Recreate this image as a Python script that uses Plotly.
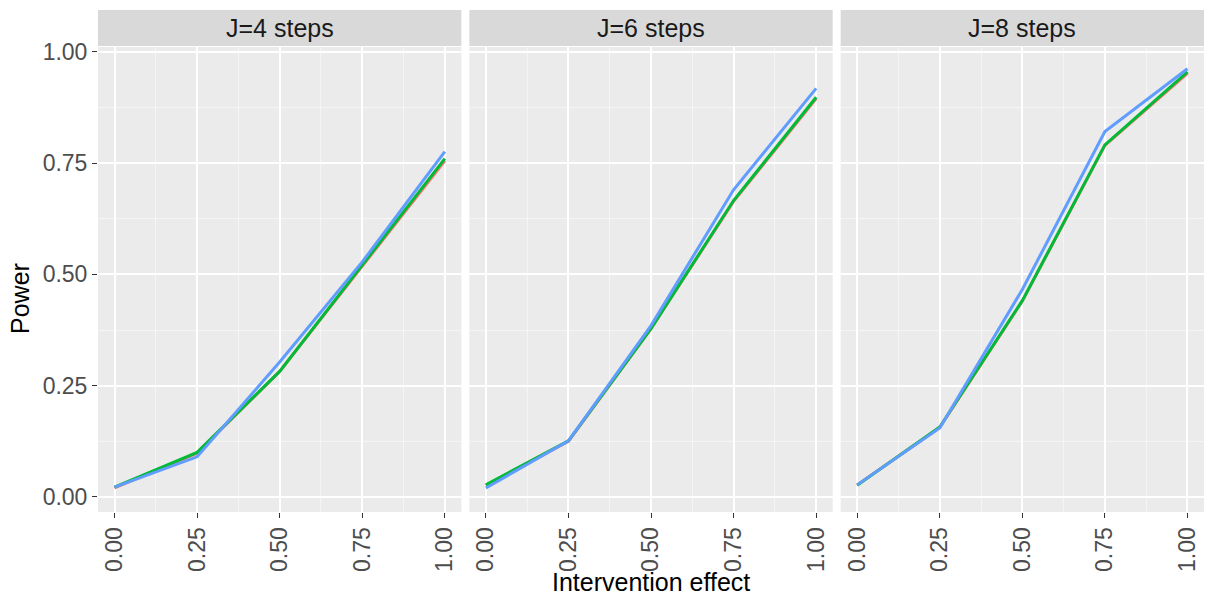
import plotly.graph_objects as go
from plotly.subplots import make_subplots

effects = [0.0, 0.25, 0.5, 0.75, 1.0]
panels = ["J=4 steps", "J=6 steps", "J=8 steps"]

# series values per panel: red, green, blue
red_vals = [
    [0.020, 0.098, 0.282, 0.518, 0.755],
    [0.026, 0.125, 0.378, 0.664, 0.895],
    [0.027, 0.156, 0.440, 0.790, 0.952],
]
green_vals = [
    [0.022, 0.100, 0.282, 0.520, 0.760],
    [0.027, 0.126, 0.378, 0.666, 0.898],
    [0.026, 0.157, 0.441, 0.791, 0.955],
]
blue_vals = [
    [0.022, 0.090, 0.303, 0.528, 0.776],
    [0.020, 0.126, 0.385, 0.690, 0.918],
    [0.027, 0.155, 0.466, 0.821, 0.962],
]
series = [("a", red_vals, "#F8766D"), ("b", green_vals, "#00BA38"), ("c", blue_vals, "#619CFF")]

xticks = [0.0, 0.25, 0.5, 0.75, 1.0]
xticklabels = ["0.00", "0.25", "0.50", "0.75", "1.00"]
yticks = [0.0, 0.25, 0.5, 0.75, 1.0]
yticklabels = ["0.00", "0.25", "0.50", "0.75", "1.00"]

W, H = 1216, 598
ml, mr, mt, mb = 98, 12, 47, 86
pw = W - ml - mr
ph = H - mt - mb

fig = make_subplots(rows=1, cols=3, shared_yaxes=True, horizontal_spacing=8 / pw)

for i in range(3):
    for name, vals, color in series:
        fig.add_trace(
            go.Scatter(x=effects, y=vals[i], mode="lines", name=name,
                       line=dict(color=color, width=3), showlegend=False),
            row=1, col=i + 1,
        )

font_family = "Liberation Sans, Arial, sans-serif"
tick_size = 23
title_size = 25
for i in range(3):
    fig.update_xaxes(
        range=[-0.05, 1.05], tickvals=xticks, ticktext=xticklabels, tickangle=-90,
        showgrid=True, gridcolor="white", gridwidth=1.8,
        minor=dict(dtick=0.125, tick0=0.125, showgrid=True, gridcolor="#F5F5F5", gridwidth=0.9),
        ticks="outside", ticklen=5, tickcolor="#333333", tickwidth=1,
        tickfont=dict(size=tick_size, color="#4D4D4D", family=font_family),
        zeroline=False, showline=False, automargin=False,
        row=1, col=i + 1,
    )
    fig.update_yaxes(
        range=[-0.034, 1.011], tickvals=yticks,
        ticktext=yticklabels if i == 0 else None,
        showticklabels=(i == 0),
        showgrid=True, gridcolor="white", gridwidth=1.8,
        minor=dict(dtick=0.125, tick0=0.125, showgrid=True, gridcolor="#F5F5F5", gridwidth=0.9),
        ticks="outside" if i == 0 else "", ticklen=5, tickcolor="#333333", tickwidth=1,
        tickfont=dict(size=tick_size, color="#4D4D4D", family=font_family),
        zeroline=False, showline=False, automargin=False,
        row=1, col=i + 1,
    )

shapes = []
annotations = []
for i, label in enumerate(panels):
    xa = fig.layout["xaxis" if i == 0 else f"xaxis{i+1}"]
    d0, d1 = xa.domain
    shapes.append(dict(type="rect", xref="paper", yref="paper", x0=d0, x1=d1,
                       y0=1 + 1 / ph, y1=1 + 37 / ph, fillcolor="#D9D9D9",
                       line=dict(width=0), layer="below"))
    annotations.append(dict(text=label, xref="paper", yref="paper", x=(d0 + d1) / 2,
                            y=1 + 19 / ph, showarrow=False, xanchor="center", yanchor="middle",
                            font=dict(size=title_size, color="#1A1A1A", family=font_family)))

annotations.append(dict(text="Intervention effect", xref="paper", yref="paper", x=0.5,
                        y=-(582 - mt - ph) / ph, showarrow=False, xanchor="center",
                        yanchor="middle", font=dict(size=title_size, color="#000000", family=font_family)))
annotations.append(dict(text="Power", xref="paper", yref="paper", x=-(ml - 20) / pw,
                        y=(ph - (299 - mt)) / ph, showarrow=False, xanchor="center", yanchor="middle",
                        textangle=-90,
                        font=dict(size=title_size, color="#000000", family=font_family)))

fig.update_layout(
    width=W, height=H,
    margin=dict(l=ml, r=mr, t=mt, b=mb),
    paper_bgcolor="white", plot_bgcolor="#EBEBEB",
    shapes=shapes, annotations=annotations, showlegend=False,
    font=dict(family=font_family),
)

fig.write_html("out.html", config={"displayModeBar": False},
               post_script="document.body.style.margin='0';document.body.style.overflow='hidden';")
